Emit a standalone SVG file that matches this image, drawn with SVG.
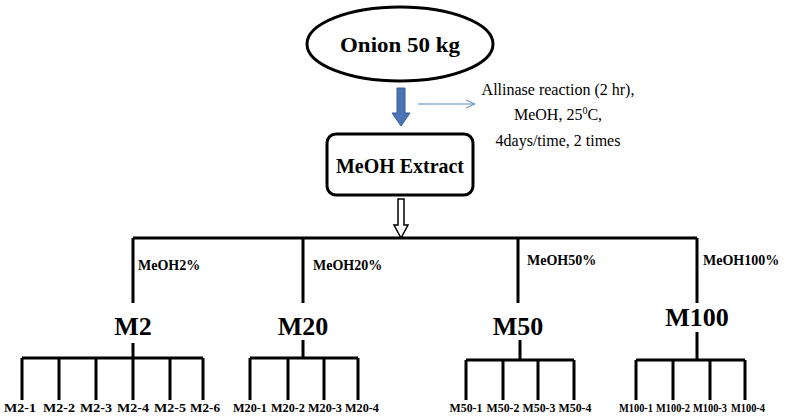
<svg xmlns="http://www.w3.org/2000/svg" width="787" height="416" viewBox="0 0 787 416">
<style>
text{font-family:"Liberation Serif","Times New Roman",Times,serif;fill:#000}
.b{font-weight:bold}
.l{stroke:#000;stroke-width:3;fill:none}
</style>
<rect width="787" height="416" fill="#fff"/>
<g id="onion"><ellipse cx="400" cy="44" rx="93" ry="37" fill="#fff" stroke="#000" stroke-width="3"/>
<text class="b" x="400" y="52" font-size="22" text-anchor="middle" textLength="120" lengthAdjust="spacingAndGlyphs">Onion 50 kg</text></g>
<g id="note"><text font-size="16" text-anchor="middle"><tspan x="558" y="95">Allinase  reaction (2 hr),</tspan><tspan x="558" y="120">MeOH, 25<tspan font-size="10" dy="-6">0</tspan><tspan dy="6">C,</tspan></tspan><tspan x="558" y="146">4days/time, 2 times</tspan></text></g>
<g id="extract"><rect x="327" y="134" width="146" height="61" rx="9" fill="#fff" stroke="#000" stroke-width="3"/>
<text class="b" x="400" y="173" font-size="22" text-anchor="middle" textLength="128" lengthAdjust="spacingAndGlyphs">MeOH Extract</text></g>
<g id="connectors">
<polygon points="397,88 405,88 405,113 410,113 401,126 392,113 397,113" fill="#4a74b4" stroke="#3a5f98"/>
<line x1="418" y1="104" x2="474" y2="104" stroke="#5b86c4" stroke-width="1"/>
<polyline points="466,100 475,104 466,108" fill="none" stroke="#5b86c4" stroke-width="1"/>
<polygon points="398,199 404,199 404,225 408,225 401,238 394,225 398,225" fill="#fff" stroke="#000" stroke-width="1.5"/>
<path class="l" d="M133,238H697M133,238V303M303,238V303M518,238V303M697,238V303"/>
<path class="l" d="M133,343V358M22,358H203M22,358V400M59,358V400M96,358V400M133,358V400M170,358V400M203,358V400"/>
<path class="l" d="M303,340V358M250,358H358M250,358V400M288,358V400M324,358V400M358,358V400"/>
<path class="l" d="M520,340V360M466,360H574M466,360V400M503,360V400M538,360V400M574,360V400"/>
<path class="l" d="M697,332V360M636,360H745M636,360V400M673,360V400M710,360V400M745,360V400"/>
</g>
<g id="labels" class="b" font-size="14">
<text x="138" y="270">MeOH2%</text><text x="313" y="270">MeOH20%</text><text x="527" y="265">MeOH50%</text><text x="703" y="265">MeOH100%</text>
</g>
<g id="mids" class="b" font-size="26" text-anchor="middle">
<text x="133" y="335">M2</text><text x="303" y="335">M20</text><text x="518" y="335">M50</text><text x="697" y="326">M100</text>
</g>
<g id="leaves" class="b" font-size="13" text-anchor="middle">
<text x="20" y="412" textLength="32" lengthAdjust="spacingAndGlyphs">M2-1</text><text x="59" y="412" textLength="32" lengthAdjust="spacingAndGlyphs">M2-2</text><text x="96" y="412" textLength="32" lengthAdjust="spacingAndGlyphs">M2-3</text><text x="133" y="412" textLength="32" lengthAdjust="spacingAndGlyphs">M2-4</text><text x="170" y="412" textLength="32" lengthAdjust="spacingAndGlyphs">M2-5</text><text x="205" y="412" textLength="30" lengthAdjust="spacingAndGlyphs">M2-6</text>
<text x="250" y="412" textLength="34" lengthAdjust="spacingAndGlyphs">M20-1</text><text x="288" y="412" textLength="34" lengthAdjust="spacingAndGlyphs">M20-2</text><text x="325" y="412" textLength="34" lengthAdjust="spacingAndGlyphs">M20-3</text><text x="362" y="412" textLength="34" lengthAdjust="spacingAndGlyphs">M20-4</text>
<text x="466" y="412" textLength="33" lengthAdjust="spacingAndGlyphs">M50-1</text><text x="503" y="412" textLength="33" lengthAdjust="spacingAndGlyphs">M50-2</text><text x="539" y="412" textLength="33" lengthAdjust="spacingAndGlyphs">M50-3</text><text x="575" y="412" textLength="33" lengthAdjust="spacingAndGlyphs">M50-4</text>
<text x="636" y="412" textLength="34" lengthAdjust="spacingAndGlyphs">M100-1</text><text x="673" y="412" textLength="34" lengthAdjust="spacingAndGlyphs">M100-2</text><text x="710" y="412" textLength="34" lengthAdjust="spacingAndGlyphs">M100-3</text><text x="748" y="412" textLength="34" lengthAdjust="spacingAndGlyphs">M100-4</text>
</g>
</svg>
